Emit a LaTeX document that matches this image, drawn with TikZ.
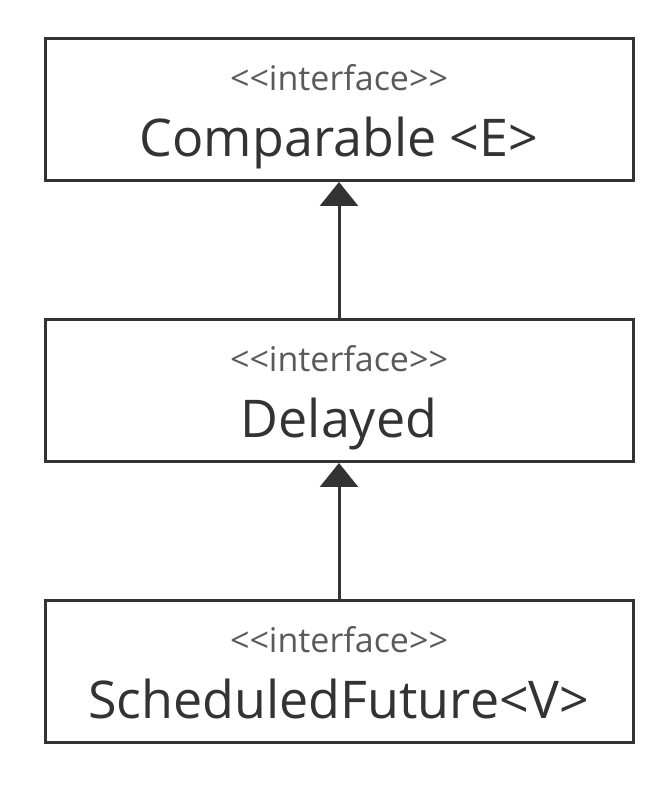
\documentclass[tikz,border=0pt]{standalone}
\usepackage{fontspec}
\setmainfont{Open Sans}
\usepackage{xcolor}
\usetikzlibrary{arrows.meta,positioning}
\definecolor{linegray}{HTML}{333333}
\definecolor{stereogray}{HTML}{5A5A5A}
\newcommand{\ifacebox}[1]{{\color{stereogray}\fontsize{34}{66}\selectfont <\kern0pt<interface>\kern0pt>}\\{#1}}

\begin{document}
\begin{tikzpicture}[x=1pt,y=1pt]
            \useasboundingbox (0,0) rectangle (669,796);
            \begin{scope}[every node/.style={rectangle,draw=linegray,line width=3pt,
                          minimum width=588pt,minimum height=142pt,align=center,
                          text=linegray,inner sep=0pt,text height=107pt,text depth=13pt,
                          font=\fontsize{52}{66}\selectfont}]
                \node (comp) at (339,686.5) {\ifacebox{Comparable <E>}};
                \node (delay) [below=136pt of comp] {\ifacebox{Delayed}};
                \node (sched) [below=136pt of delay] {\ifacebox{ScheduledFuture<V>}};
            \end{scope}

            \begin{scope}[>={Triangle[length=24pt,width=38pt]},
                          every edge/.style={draw=linegray,line width=3pt}]
                \path [->] (delay) edge (comp);
                \path [->] (sched) edge (delay);
            \end{scope}
            \end{tikzpicture}
\end{document}
